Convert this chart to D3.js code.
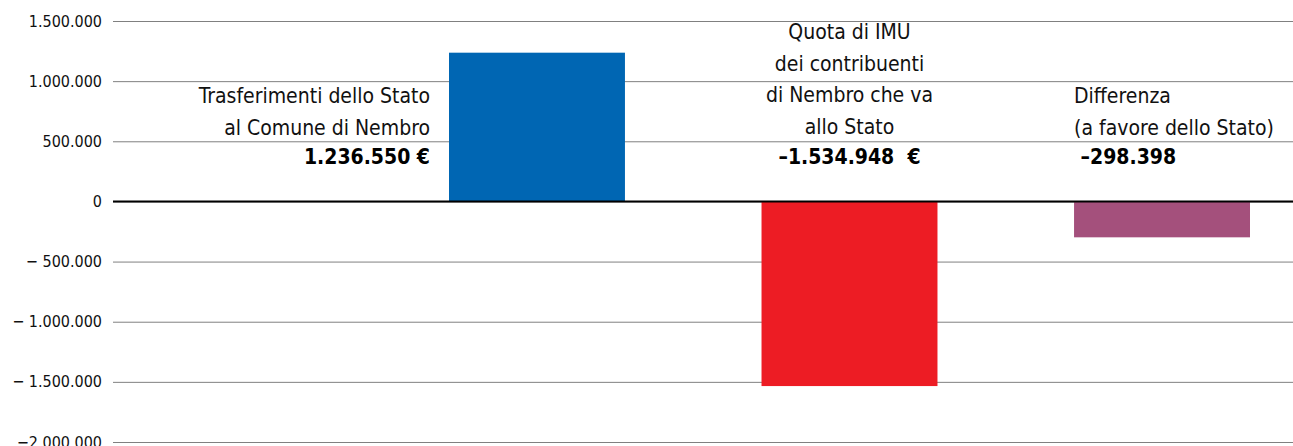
<!DOCTYPE html>
<html>
<head>
<meta charset="utf-8">
<script src="https://cdn.jsdelivr.net/npm/d3@7"></script>
<style>
  body { margin: 0; background: #fff; }
  svg { display: block; }
  text { font-family: "Liberation Sans Narrow", "DejaVu Sans Condensed", "Open Sans", sans-serif; }
</style>
</head>
<body>
<script>
const W = 1293, H = 446;

// data
const categories = ['trasferimenti', 'quota', 'differenza'];
const values = [1236550, -1534948, -298398];
const colors = ['#0066b3', '#ed1c24', '#a4507c'];
const tickValues = [1500000, 1000000, 500000, 0, -500000, -1000000, -1500000, -2000000];
const tickLabels = ['1.500.000', '1.000.000', '500.000', '0', '\u2212 500.000', '\u2212 1.000.000', '\u2212 1.500.000', '\u22122.000.000'];
const labelLines = [
  ['Trasferimenti dello Stato', 'al Comune di Nembro'],
  ['Quota di IMU', 'dei contribuenti', 'di Nembro che va', 'allo Stato'],
  ['Differenza', '(a favore dello Stato)']
];
const valueLabels = ['1.236.550 \u20ac', '\u20131.534.948  \u20ac', ' \u2013298.398'];

const svg = d3.select('body').append('svg')
    .attr('width', W)
    .attr('height', H);

const y = d3.scaleLinear()
    .domain([-2000000, 1500000])
    .range([442, 21]);

const x = d3.scaleBand()
    .domain(categories)
    .range([449, 1250])
    .paddingInner(0.437)
    .paddingOuter(0);

// gridlines + tick labels
const axis = d3.axisLeft(y)
    .tickValues(tickValues)
    .tickSize(-(W - 113))
    .tickPadding(11)
    .tickFormat((d, i) => tickLabels[i]);

const gAxis = svg.append('g')
    .attr('transform', 'translate(113,0)')
    .call(axis);

gAxis.select('.domain').remove();
gAxis.selectAll('.tick line')
    .attr('stroke', '#808080')
    .attr('stroke-width', 1);
gAxis.selectAll('.tick text')
    .attr('x', -11)
    .attr('fill', '#111')
    .style('font-size', '16px');

// bars
svg.append('g').selectAll('rect')
    .data(values)
    .join('rect')
    .attr('x', (d, i) => x(categories[i]))
    .attr('width', x.bandwidth())
    .attr('y', d => y(Math.max(0, d)))
    .attr('height', d => Math.abs(y(d) - y(0)))
    .attr('fill', (d, i) => colors[i]);

// zero line
svg.append('line')
    .attr('x1', 113).attr('x2', W)
    .attr('y1', y(0)).attr('y2', y(0))
    .attr('stroke', '#000')
    .attr('stroke-width', 2);

// annotations
const labelPos = [
  { x: x(categories[0]) - 19, anchor: 'end', top: 96 },
  { x: x(categories[1]) + x.bandwidth() / 2, anchor: 'middle', top: 32 },
  { x: x(categories[2]), anchor: 'start', top: 96 }
];
const lineH = 31.5;

labelLines.forEach((lines, i) => {
  const p = labelPos[i];
  const g = svg.append('g');
  lines.forEach((t, j) => {
    g.append('text')
      .attr('x', p.x)
      .attr('y', p.top + j * lineH)
      .attr('dy', '0.35em')
      .attr('text-anchor', p.anchor)
      .attr('fill', '#111')
      .style('font-size', '21px')
      .text(t);
  });
  g.append('text')
    .attr('x', p.x)
    .attr('y', 157)
    .attr('dy', '0.35em')
    .attr('text-anchor', p.anchor)
    .attr('fill', '#000')
    .style('font-size', '21px')
    .style('font-weight', 'bold')
    .style('white-space', 'pre')
    .text(valueLabels[i]);
});
</script>
</body>
</html>
